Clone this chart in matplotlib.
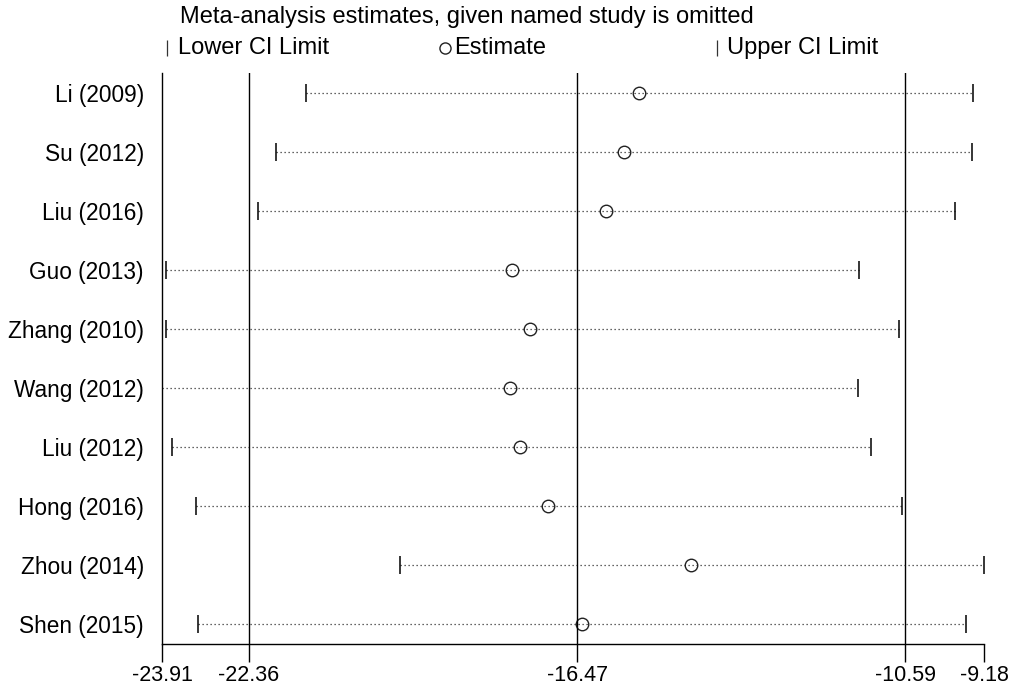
import matplotlib
matplotlib.use("Agg")
import matplotlib.pyplot as plt
from matplotlib.lines import Line2D

plt.rcParams['font.family'] = ['Liberation Sans', 'DejaVu Sans']

studies = ['Li (2009)', 'Su (2012)', 'Liu (2016)', 'Guo (2013)', 'Zhang (2010)',
           'Wang (2012)', 'Liu (2012)', 'Hong (2016)', 'Zhou (2014)', 'Shen (2015)']
lower = [-21.33, -21.87, -22.19, -23.84, -23.84, -23.91, -23.73, -23.30, -19.64, -23.26]
estimate = [-15.36, -15.63, -15.95, -17.64, -17.32, -17.67, -17.49, -16.99, -14.43, -16.38]
upper = [-9.38, -9.39, -9.70, -11.42, -10.70, -11.44, -11.20, -10.65, -9.18, -9.50]
ticks = [-23.91, -22.36, -16.47, -10.59, -9.18]
ref_lines = [-22.36, -16.47, -10.59]

fig = plt.figure(figsize=(10.21, 6.88), dpi=100)
ax = fig.add_axes([0.1587, 0.064, 0.8051, 0.8299])

ypos = list(range(1, len(studies) + 1))
for y, lo, est, hi in zip(ypos, lower, estimate, upper):
    ax.plot([lo, hi], [y, y], linestyle=(0, (1, 2.2)), color='#333333', lw=0.9)
    ax.plot([lo, hi], [y, y], linestyle='none', marker='|', markersize=13,
            markeredgewidth=1.1, color='black')
    ax.plot(est, y, marker='o', markersize=9, markerfacecolor='none',
            markeredgecolor='#222222', markeredgewidth=1.0, linestyle='none')

for x in ref_lines:
    ax.axvline(x, color='black', lw=1.0)

ax.set_xlim(ticks[0], ticks[-1])
ax.set_ylim(10.34, 0.66)
ax.set_xticks(ticks)
ax.set_xticklabels([f'{t:.2f}' for t in ticks], fontsize=15.5)
ax.set_yticks(ypos)
ax.set_yticklabels(studies, fontsize=16.3)
ax.tick_params(axis='y', length=0, pad=13)
ax.tick_params(axis='x', length=13, width=1, direction='out', pad=2)
ax.spines['top'].set_visible(False)
ax.spines['right'].set_visible(False)
for s in ['left', 'bottom']:
    ax.spines[s].set_linewidth(1.0)

# header and key
fig.text(180 / 1021, 1 - 17 / 688, 'Meta-analysis estimates, given named study is omitted',
         fontsize=17, va='center', ha='left')
key_y = 1 - 48 / 688
fig.add_artist(Line2D([167 / 1021], [key_y], marker='|', markersize=12,
                      markeredgewidth=0.9, color='#333333', transform=fig.transFigure))
fig.text(178 / 1021, key_y, 'Lower CI Limit', fontsize=17, va='center', ha='left')
fig.add_artist(Line2D([445 / 1021], [key_y], marker='o', markersize=8,
                      markerfacecolor='none', markeredgecolor='#222222',
                      markeredgewidth=1.0, transform=fig.transFigure))
fig.text(454 / 1021, key_y, 'Estimate', fontsize=17, va='center', ha='left')
fig.add_artist(Line2D([717 / 1021], [key_y], marker='|', markersize=12,
                      markeredgewidth=0.9, color='#333333', transform=fig.transFigure))
fig.text(727 / 1021, key_y, 'Upper CI Limit', fontsize=17, va='center', ha='left')

fig.savefig('out.png', dpi=100)
